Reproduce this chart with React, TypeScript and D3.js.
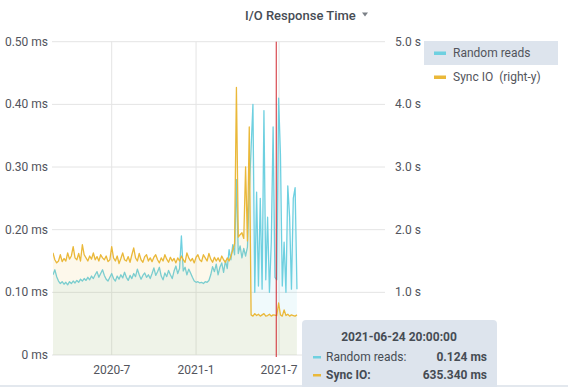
import React from 'react';
import * as d3 from 'd3';

// one sample every 4 days starting 2020-02-24
const START = new Date(2020, 1, 24);
const STEP_DAYS = 4;

// Random reads, milliseconds (left axis)
const randomReads = [
  0.128, 0.136, 0.125, 0.118, 0.114, 0.117, 0.113, 0.116, 0.112, 0.117,
  0.114, 0.118, 0.115, 0.119, 0.116, 0.121, 0.118, 0.122, 0.119, 0.124,
  0.12, 0.126, 0.122, 0.128, 0.133, 0.124, 0.13, 0.136, 0.127, 0.121,
  0.118, 0.124, 0.13, 0.122, 0.118, 0.126, 0.121, 0.128, 0.123, 0.132,
  0.124, 0.119, 0.127, 0.122, 0.13, 0.125, 0.137, 0.128, 0.121, 0.127,
  0.131, 0.124, 0.128, 0.122, 0.13, 0.139, 0.127, 0.133, 0.14, 0.126,
  0.12, 0.131, 0.125, 0.135, 0.128, 0.122, 0.134, 0.142, 0.13, 0.138,
  0.19, 0.134, 0.14, 0.128, 0.137, 0.131, 0.124, 0.118, 0.116, 0.117,
  0.115, 0.116, 0.114, 0.117, 0.116, 0.119, 0.128, 0.141, 0.133, 0.145,
  0.128, 0.14, 0.147, 0.132, 0.15, 0.138, 0.168, 0.152, 0.176, 0.16,
  0.28, 0.162, 0.174, 0.155, 0.17, 0.158, 0.172, 0.26, 0.33, 0.4,
  0.1, 0.26, 0.11, 0.25, 0.105, 0.39, 0.12, 0.22, 0.1, 0.18,
  0.364, 0.124, 0.12, 0.41, 0.32, 0.11, 0.18, 0.1, 0.27, 0.22,
  0.105, 0.25, 0.267, 0.105,
];

// Sync IO, seconds (right axis)
const syncIO = [
  1.63, 1.52, 1.47, 1.5, 1.6, 1.49, 1.54, 1.5, 1.63, 1.53,
  1.58, 1.73, 1.55, 1.52, 1.62, 1.5, 1.76, 1.6, 1.55, 1.5,
  1.58, 1.53, 1.63, 1.52, 1.57, 1.5, 1.6, 1.55, 1.52, 1.58,
  1.49, 1.52, 1.73, 1.55, 1.5, 1.58, 1.46, 1.54, 1.63, 1.52,
  1.5, 1.57, 1.48, 1.6, 1.71, 1.55, 1.5, 1.62, 1.52, 1.48,
  1.57, 1.6, 1.5, 1.55, 1.49, 1.56, 1.6, 1.52, 1.47, 1.55,
  1.5, 1.6, 1.53, 1.48, 1.56, 1.5, 1.54, 1.47, 1.55, 1.5,
  1.58, 1.52, 1.48, 1.63, 1.55, 1.5, 1.54, 1.47, 1.56, 1.6,
  1.52, 1.49, 1.6, 1.55, 1.5, 1.62, 1.53, 1.48, 1.56, 1.5,
  1.55, 1.49, 1.58, 1.52, 1.48, 1.55, 1.5, 1.58, 1.68, 1.78,
  4.27, 1.88, 1.92, 1.95, 1.86, 3.0, 1.82, 3.64, 0.64, 0.62,
  0.66, 0.63, 0.65, 0.62, 0.64, 0.66, 0.62, 0.63, 0.65, 0.62,
  0.64, 0.635, 0.63, 0.83, 0.64, 0.62, 0.72, 0.63, 0.65, 0.62,
  0.64, 0.63, 0.62, 0.64,
];

// 0 s and the 2022-1 tick sit under the tooltip in the reference
const leftTicks = [0, 0.1, 0.2, 0.3, 0.4, 0.5];
const rightTicks = [1, 2, 3, 4, 5];
const xTicks = [new Date(2020, 6, 1), new Date(2021, 0, 1), new Date(2021, 6, 1)];
const markerTime = new Date(2021, 5, 24, 20);

const legendItems = [
  { label: 'Random reads', color: '#6ED0E0' },
  { label: 'Sync IO\u00a0\u00a0(right-y)', color: '#EAB839' },
];

const tooltipTitle = '2021-06-24 20:00:00';
const tooltipRows = [
  { label: 'Random reads:', value: '0.124 ms', color: '#6ED0E0', bold: false },
  { label: 'Sync IO:', value: '635.340 ms', color: '#EAB839', bold: true },
];

const W = 568;
const H = 387;
const left = 53;
const right = 385;
const top = 41.7;
const bottom = 355;
const textColor = '#52545c';
const font = 'Roboto, "Noto Sans", sans-serif';

export default function App() {
  const x = d3.scaleTime().domain([START, new Date(2022, 1, 17)]).range([left, right]);
  const yL = d3.scaleLinear().domain([0, 0.5]).range([bottom, top]);
  const yR = d3.scaleLinear().domain([0, 5]).range([bottom, top]);
  const dateAt = (i: number) => d3.timeDay.offset(START, i * STEP_DAYS);
  const fmtX = d3.timeFormat('%Y-%-m');

  const blueLine = d3.line<number>().x((_, i) => x(dateAt(i))).y(d => yL(d))(randomReads) || '';
  const blueArea = d3.area<number>().x((_, i) => x(dateAt(i))).y0(bottom).y1(d => yL(d))(randomReads) || '';
  const yellowLine = d3.line<number>().x((_, i) => x(dateAt(i))).y(d => yR(d))(syncIO) || '';
  const yellowArea = d3.area<number>().x((_, i) => x(dateAt(i))).y0(bottom).y1(d => yR(d))(syncIO) || '';
  const mx = x(markerTime);

  const tipX = 302;
  const tipY = 320;

  return (
    <svg width={W} height={H} style={{ position: 'absolute', left: 0, top: 0, background: '#fff' }} fontFamily={font}>
      {/* title */}
      <text x={245} y={19.5} fontSize={13} fontWeight={500} fill="#464c54">I/O Response Time</text>
      <path d="M362,12.5 L368,12.5 L365,16.5 Z" fill="#7b8087" />

      {/* grid */}
      {leftTicks.map(t => (
        <line key={'gy' + t} x1={left - 1} x2={right} y1={yL(t)} y2={yL(t)} stroke="#e4e4e4" strokeWidth={1} />
      ))}
      {xTicks.map(t => (
        <line key={'gx' + t.getTime()} x1={x(t)} x2={x(t)} y1={top} y2={bottom} stroke="#e4e4e4" strokeWidth={1} />
      ))}

      <defs>
        <clipPath id="plot-clip">
          <rect x={left} y={top - 5} width={right - left} height={bottom - top + 5} />
        </clipPath>
      </defs>

      <g clipPath="url(#plot-clip)">
        <path d={blueArea} fill="#6ED0E0" fillOpacity={0.1} />
        <path d={blueLine} fill="none" stroke="#6ED0E0" strokeWidth={1.3} strokeLinejoin="round" />
        <path d={yellowArea} fill="#EAB839" fillOpacity={0.1} />
        <path d={yellowLine} fill="none" stroke="#EAB839" strokeWidth={1.3} strokeLinejoin="round" />
      </g>

      {/* marker */}
      <line x1={mx} x2={mx} y1={top} y2={bottom + 2} stroke="#d0272f" strokeWidth={1} />

      {/* left axis */}
      {leftTicks.map(t => (
        <text key={'ly' + t} x={48} y={yL(t) + 4} fontSize={12} fill={textColor} textAnchor="end">
          {t === 0 ? '0 ms' : t.toFixed(2) + ' ms'}
        </text>
      ))}
      {/* right axis */}
      {rightTicks.map(t => (
        <text key={'ry' + t} x={395} y={yR(t) + 4} fontSize={12} fill={textColor}>
          {t.toFixed(1) + ' s'}
        </text>
      ))}
      {/* x axis */}
      {xTicks.map(t => (
        <text key={'xl' + t.getTime()} x={x(t)} y={374} fontSize={12} fill={textColor} textAnchor="middle">
          {fmtX(t)}
        </text>
      ))}

      {/* legend */}
      <rect x={424} y={41} width={134} height={24} fill="#dde4ed" />
      {legendItems.map((it, i) => (
        <g key={it.label} transform={`translate(434, ${53 + i * 24})`}>
          <rect x={0} y={-1.5} width={12} height={3.5} fill={it.color} />
          <text x={19} y={4} fontSize={12} fill={textColor}>{it.label}</text>
        </g>
      ))}

      {/* bottom border */}
      <rect x={0} y={385} width={W} height={2} fill="#e3e8ee" />

      {/* tooltip */}
      <rect x={tipX} y={tipY} width={195} height={80} rx={4} fill="#dde4ed" />
      <text x={tipX + 97} y={tipY + 21} fontSize={12} fontWeight={700} fill="#464c54" textAnchor="middle">
        {tooltipTitle}
      </text>
      {tooltipRows.map((r, i) => (
        <g key={r.label} transform={`translate(${tipX}, ${tipY + 37 + i * 18})`}>
          <rect x={11} y={-1} width={8} height={2.5} fill={r.color} />
          <text x={24} y={4} fontSize={12} fontWeight={r.bold ? 700 : 400} fill="#464c54">{r.label}</text>
          <text x={185} y={4} fontSize={12} fontWeight={700} fill="#464c54" textAnchor="end">{r.value}</text>
        </g>
      ))}
    </svg>
  );
}
